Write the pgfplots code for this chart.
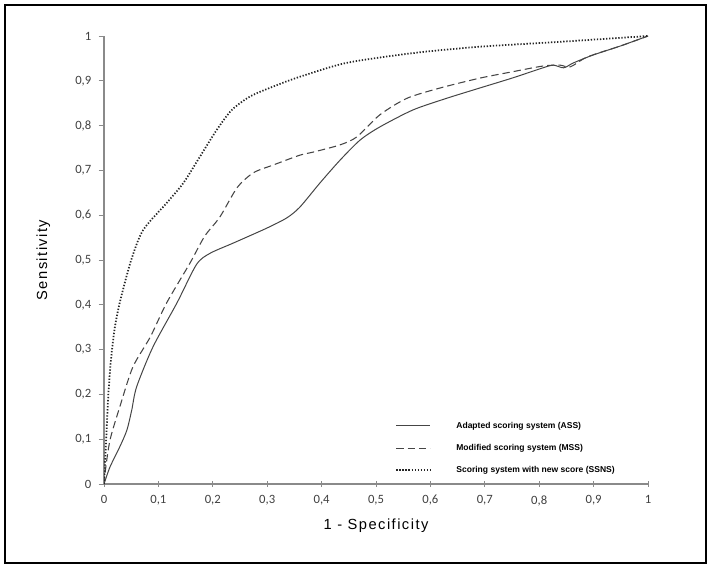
\documentclass[border=0pt]{standalone}
\usepackage{pgfplots}
\pgfplotsset{compat=1.18}
\usepackage{fontspec}
\setmainfont{Liberation Sans}
\newfontfamily\tickfont{Carlito}
\newfontfamily\labfont[LetterSpace=10]{Liberation Sans}
\definecolor{axgray}{HTML}{8A8A8A}
\definecolor{txtgray}{HTML}{404040}
\definecolor{lngray}{HTML}{454545}
\begin{document}
\begin{tikzpicture}[x=0.75pt,y=0.75pt]
\path[use as bounding box] (0,0) rectangle (710,569);
\draw[black,line width=1.1pt] (5,6) rectangle (706,564);
\begin{axis}[
  at={(78pt,63.75pt)}, anchor=south west,
  scale only axis, width=408pt, height=336pt,
  xmin=0, xmax=1, ymin=0, ymax=1,
  axis lines*=left,
  axis line style={axgray, line width=0.9pt},
  xtick={0,0.1,...,1.0001}, ytick={0,0.1,...,1.0001},
  xtick align=center, ytick align=outside,
  major tick length=4pt,
  tick style={axgray, line width=0.6pt},
  /pgf/number format/assume math mode=true,
  /pgf/number format/.cd, use comma, fixed, precision=1, /pgfplots/.cd,
  ticklabel style={font=\tickfont\fontsize{9.5}{11}\selectfont, text=txtgray},
  xticklabel style={yshift=-3pt},
  yticklabel style={xshift=-2pt},
  xlabel={\labfont\fontsize{11}{13}\selectfont 1 - Specificity},
  ylabel={\labfont\fontsize{11}{13}\selectfont Sensitivity},
  xlabel style={yshift=-3pt},
  ylabel style={yshift=12pt},
  legend style={draw=none, fill=none, at={(0.535,0.08)}, anchor=west,
    font=\bfseries\fontsize{6.4}{7.5}\selectfont, row sep=6.5pt, inner sep=0pt},
  legend cell align=left,
  legend image code/.code={\draw[#1] (0pt,0pt) -- (25.5pt,0pt);},
]
\addplot[lngray, line width=0.75pt, smooth, tension=0.45] coordinates {
(0,0) (0.011,0.038) (0.029,0.083) (0.042,0.12) (0.051,0.165) (0.06,0.217)
(0.09,0.306) (0.134,0.404) (0.17,0.49) (0.195,0.515) (0.238,0.538) (0.299,0.571)
(0.336,0.594) (0.36,0.618) (0.397,0.672) (0.434,0.723) (0.471,0.768) (0.507,0.797)
(0.568,0.835) (0.63,0.861) (0.691,0.884) (0.75,0.906) (0.807,0.929) (0.826,0.935)
(0.845,0.929) (0.863,0.94) (0.9,0.958) (0.95,0.978) (1,1)};
\addlegendentry{\hspace{17pt}Adapted scoring system (ASS)}
\addplot[lngray, line width=0.8pt, dash pattern=on 5.5pt off 3pt, smooth, tension=0.45] coordinates {
(0,0) (0.002,0.025) (0.011,0.098) (0.029,0.172) (0.053,0.261) (0.085,0.328)
(0.115,0.404) (0.158,0.493) (0.185,0.553) (0.213,0.596) (0.245,0.662) (0.275,0.695)
(0.311,0.712) (0.36,0.734) (0.385,0.741) (0.434,0.757) (0.465,0.775) (0.507,0.824)
(0.557,0.861) (0.618,0.884) (0.691,0.906) (0.75,0.92) (0.807,0.933) (0.838,0.935)
(0.857,0.931) (0.888,0.953) (0.95,0.978) (1,1)};
\addlegendentry{\hspace{17pt}Modified scoring system (MSS)}
\addplot[black!85, line width=1.3pt, dash pattern=on 1pt off 1.3pt, smooth, tension=0.45] coordinates {
(0,0) (0.004,0.1) (0.008,0.2) (0.013,0.28) (0.02,0.35) (0.03,0.41) (0.05,0.5)
(0.072,0.567) (0.115,0.627) (0.146,0.672) (0.176,0.73) (0.207,0.79) (0.235,0.835)
(0.27,0.866) (0.317,0.89) (0.36,0.909) (0.446,0.94) (0.569,0.962) (0.69,0.976)
(0.838,0.987) (1,1)};
\addlegendentry{\hspace{17pt}Scoring system with new score (SSNS)}
\end{axis}
\end{tikzpicture}
\end{document}
